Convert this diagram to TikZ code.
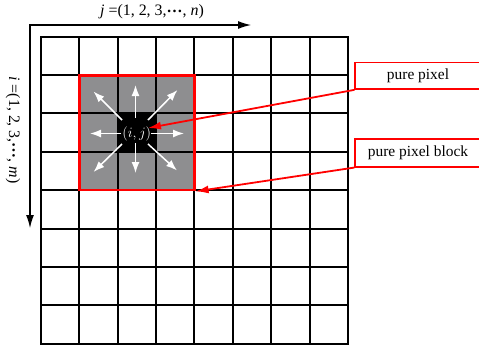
\documentclass[tikz,border=0pt]{standalone}
\usepackage{fontspec}
\setmainfont{Liberation Serif}
\usetikzlibrary{arrows.meta}
\definecolor{blockgray}{RGB}{142,142,144}
\newcommand\middots{\raisebox{0.22em}{\textbf{…}}}
\begin{document}
\begin{tikzpicture}[x=1bp,y=-1bp,
  gridline/.style={line width=1.9bp,black,line cap=rect},
  redbox/.style={draw=red,line width=2.8bp},
  callout/.style={draw=red,line width=1.7bp,fill=white,inner sep=0pt,font=\fontsize{15.5}{17}\selectfont},
  redarrow/.style={red,line width=1.8bp,-{Latex[length=13bp,width=8bp]}},
  axisarrow/.style={black,line width=1.2bp,{Latex[length=13bp,width=8bp]}-{Latex[length=13bp,width=8bp]}},
  whitearrow/.style={white,line width=1.5bp,-{Latex[length=11bp,width=8bp]}},
  lbl/.style={font=\fontsize{16}{18}\selectfont,inner sep=0pt}
]
\useasboundingbox (0,0) rectangle (479,351);
\def\L{40.8}\def\T{36.6}\def\C{38.4}
% pixel block and pure pixel
\fill[blockgray] (\L+\C,\T+\C) rectangle (\L+4*\C,\T+4*\C);
\fill[black] (\L+2*\C,\T+2*\C) rectangle (\L+3*\C,\T+3*\C);
% grid
\foreach \i in {0,...,8}{
  \draw[gridline] (\L+\i*\C,\T) -- (\L+\i*\C,\T+8*\C);
  \draw[gridline] (\L,\T+\i*\C) -- (\L+8*\C,\T+\i*\C);
}
% red block outline
\node[redbox,minimum width=3*\C,minimum height=3*\C,inner sep=0pt] (block) at (\L+2.5*\C,\T+2.5*\C) {};
% axes
\coordinate (origin) at (30,25);
\coordinate (xend) at (251,25);
\coordinate (yend) at (30,228);
\draw[axisarrow] (yend) -- (origin) -- (xend);
\node[lbl] (jlab) at (152,12) {\textit{j} =(1, 2, 3,\middots, \textit{n})};
\node[lbl,rotate=-90] (ilab) at (13,130) {\textit{i} =(1, 2, 3,\middots, \textit{m})};
% center label
\node[text=white,inner sep=0pt,font=\fontsize{14.5}{16}\selectfont] (ij) at (136.8,133.5) {$(i,j)$};
% white arrows
\foreach \sx/\sy/\ex/\ey in {
  135.5/118/135.5/85,
  135.5/143/135.5/173,
  121/133.5/90/133.5,
  151/133.5/184/133.5,
  122/120/93.5/91.5,
  148/120/177.5/90,
  122/144/93.5/172,
  148/144/177/170.5}{
  \coordinate (s) at (\sx,\sy);
  \coordinate (e) at (\ex,\ey);
  \draw[whitearrow] (s) -- (e);
}
% callouts
\node[callout,minimum width=126,minimum height=26.5] (pp) at (418,75.8) {pure pixel};
\node[callout,minimum width=126,minimum height=27.5] (ppb) at (418,153) {pure pixel block};
\coordinate (pptip) at (148,128);
\draw[redarrow] (pp.south west) -- (pptip);
\draw[redarrow] (ppb.south west) -- (block.south east);
\end{tikzpicture}
\end{document}
